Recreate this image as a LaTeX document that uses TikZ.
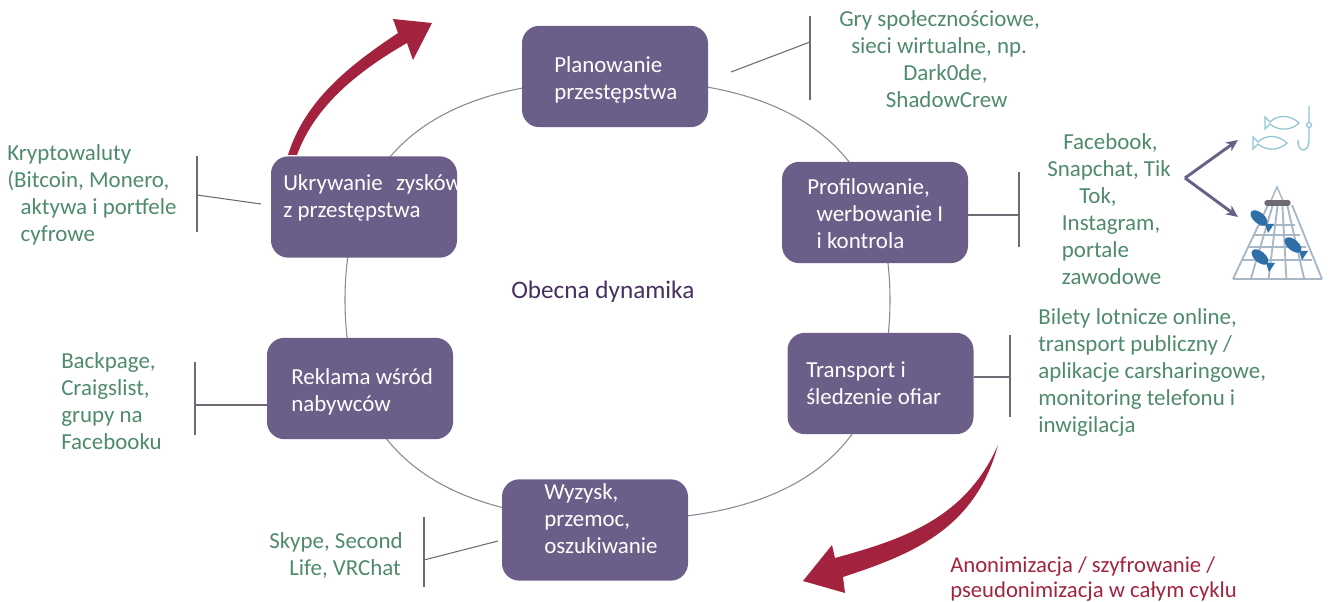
\documentclass[tikz,border=0pt]{standalone}
\usepackage{fontspec}
\usetikzlibrary{arrows.meta}
\setmainfont{Carlito}
\definecolor{boxc}{HTML}{6B5F8A}
\definecolor{greenc}{HTML}{4F8A6C}
\definecolor{redc}{HTML}{A3233F}
\definecolor{darkc}{HTML}{46305F}
\definecolor{linec}{HTML}{6E6A74}
\definecolor{fishc}{HTML}{8FC4D4}
\definecolor{netc}{HTML}{A9B8C6}
\definecolor{netfish}{HTML}{2F6FA8}
\tikzset{
  stagebox/.style={draw=none,fill=boxc,rounded corners=13pt,minimum width=139.5pt,minimum height=76pt,inner sep=0pt},
  lines/.style={anchor=north west,yshift=10.6pt,align=left,inner sep=0pt,font=\fontsize{17.2}{20.25}\selectfont,execute at begin node=\strut},
  stagetxt/.style={lines,text=white},
  tool/.style={lines,text=greenc},
  conn/.style={draw=linec,line width=0.8pt},
  ring/.style={draw=linec!80,line width=0.8pt},
  redarrow/.style={fill=redc,draw=none},
  fishline/.style={draw=fishc,line width=0.9pt,fill=white},
}
\begin{document}
\begin{tikzpicture}[x=0.75pt,y=-0.75pt]
\useasboundingbox (0,0) rectangle (1329,602);
\draw[ring] (890,300) .. controls (890,447) and (800.5,520) .. (617.5,520) .. controls (434.5,520) and (345,447) .. (345,300) .. controls (345,153) and (434.5,80) .. (617.5,80) .. controls (800.5,80) and (890,153) .. (890,300) -- cycle;

\node[stagebox] (plan) at (615,76.5) {};
\node[stagebox] (prof) at (875,212.5) {};
\node[stagebox] (trans) at (880.5,383.5) {};
\node[stagebox] (wyz) at (595,530) {};
\node[stagebox] (rekl) at (360,388.5) {};
\node[stagebox] (ukr) at (364,207) {};

\node[stagetxt] (plant) at (554,70) {Planowanie\\przestępstwa};
\node[stagetxt] (proft) at (807,192) {Profilowanie,\\\hspace*{7pt}werbowanie I\\\hspace*{7pt}i kontrola};
\node[stagetxt] (transt) at (806,376) {Transport i\\śledzenie ofiar};
\node[stagetxt] (wyzt) at (544,497) {Wyzysk,\\przemoc,\\oszukiwanie};
\node[stagetxt] (reklt) at (291,382) {Reklama wśród\\nabywców};
\node[stagetxt] (ukrt) at (283,188) {Ukrywanie\hspace{6pt} zysków\\z przestępstwa};

\node[text=darkc,anchor=base west,inner sep=0pt,font=\fontsize{18.9}{22}\selectfont] (dyn) at (511,299) {Obecna dynamika};

\node[tool] (t1) at (839,24) {Gry społecznościowe,\\\hspace*{9pt}sieci wirtualne, np.\\\hspace*{48pt}Dark0de,\\\hspace*{35pt}ShadowCrew};
\node[tool] (t2) at (1047,147) {\hspace*{12pt}Facebook,\\Snapchat, Tik\\\hspace*{24pt}Tok,\\\hspace*{11pt}Instagram,\\\hspace*{11pt}portale\\\hspace*{11pt}zawodowe};
\node[tool] (t3) at (1038,322) {Bilety lotnicze online,\\transport publiczny /\\aplikacje carsharingowe,\\monitoring telefonu i\\inwigilacja};
\node[tool] (t4) at (269,546) {Skype, Second\\\hspace*{15pt}Life, VRChat};
\node[tool] (t5) at (61,366) {Backpage,\\Craigslist,\\grupy na\\Facebooku};
\node[tool] (t6) at (7,158) {Kryptowaluty\\(Bitcoin, Monero,\\\hspace*{10pt}aktywa i portfele\\\hspace*{10pt}cyfrowe};
\node[lines,text=redc,font=\fontsize{17}{18.75}\selectfont,yshift=0.5pt] (anon) at (950,571) {Anonimizacja / szyfrowanie /\\pseudonimizacja w całym cyklu};

% connectors
\coordinate (b1a) at (810,16); \coordinate (b1b) at (810,100); \coordinate (b1m) at (810,42); \coordinate (c1) at (731,72);
\draw[conn] (b1a) -- (b1b); \draw[conn] (c1) -- (b1m);
\coordinate (b2a) at (1019,172); \coordinate (b2b) at (1019,247); \coordinate (b2m) at (1019,215);
\draw[conn] (b2a) -- (b2b); \draw[conn] (prof.east |- b2m) -- (b2m);
\coordinate (b3a) at (1010,335); \coordinate (b3b) at (1010,417); \coordinate (b3m) at (1010,377);
\draw[conn] (b3a) -- (b3b); \draw[conn] (trans.east |- b3m) -- (b3m);
\coordinate (b4a) at (424,517); \coordinate (b4b) at (424,587); \coordinate (b4m) at (424,560); \coordinate (c4) at (498,541);
\draw[conn] (b4a) -- (b4b); \draw[conn] (c4) -- (b4m);
\coordinate (b5a) at (195,362); \coordinate (b5b) at (195,435); \coordinate (b5m) at (195,405);
\draw[conn] (b5a) -- (b5b); \draw[conn] (rekl.west |- b5m) -- (b5m);
\coordinate (b6a) at (197,156); \coordinate (b6b) at (197,232); \coordinate (b6m) at (197,195); \coordinate (c6) at (261,204);
\draw[conn] (b6a) -- (b6b); \draw[conn] (c6) -- (b6m);

% curved red arrows
\fill[redarrow] (288,155) .. controls (305,100) and (350,65) .. (398,33) -- (393,19) -- (432,23) -- (413,60) -- (407,43) .. controls (360,70) and (315,105) .. (297,155) -- cycle;
\fill[redarrow] (998,445) .. controls (975,530) and (910,555) .. (843,577) -- (845,593) -- (803,581) -- (832,545) -- (835,558) .. controls (900,540) and (965,520) .. (998,445) -- cycle;

% forking arrows
\coordinate (fork) at (1185,178);
\coordinate (fa) at (1238,140);
\coordinate (fb) at (1238,217);
\draw[draw=boxc,line width=2.2pt,-{Stealth[length=9pt,width=8pt]}] (fork) -- (fa);
\draw[draw=boxc,line width=2.2pt,-{Stealth[length=9pt,width=8pt]}] (fork) -- (fb);

% fish and hook
\foreach \fx/\fy in {1265/123,1253/143}{
  \draw[fishline] (\fx,\fy-6) -- (\fx+5,\fy-1) .. controls (\fx+13,\fy-9) and (\fx+26,\fy-8) .. (\fx+34,\fy) .. controls (\fx+26,\fy+8) and (\fx+13,\fy+8) .. (\fx+5,\fy+1) -- (\fx,\fy+6) -- cycle;
}
\draw[draw=fishc,line width=1pt] (1309,106) -- (1309,141) .. controls (1309,153) and (1297,153) .. (1298,140);
\draw[draw=fishc,line width=0.9pt,fill=white] (1309,125) circle [radius=2.5];

% net
\draw[netc,line width=1.1pt] (1270,203) -- (1277,187) -- (1284,203);
\begin{scope}[netc,line width=1.4pt]
  \foreach \i in {0,...,5}{
    \draw ({1268+\i*4.8},205) -- ({1233+\i*17.8},279);
  }
  \foreach \yy in {225,235,247,260,279}{
    \draw ({1277-44.5*(\yy-187)/92},\yy) -- ({1277+44.5*(\yy-187)/92},\yy);
  }
\end{scope}
\draw[line width=4pt,draw=linec,line cap=round] (1267,203) -- (1288,203);
\foreach \nx/\ny in {1259/218,1293/245,1260/257}{
  \fill[netfish,rotate around={-40:(\nx,\ny)}] (\nx,\ny) ellipse [x radius=10,y radius=5.5];
  \fill[netfish] (\nx+6,\ny+6) -- (\nx+15,\ny+6) -- (\nx+9,\ny+15) -- cycle;
}
\end{tikzpicture}
\end{document}
